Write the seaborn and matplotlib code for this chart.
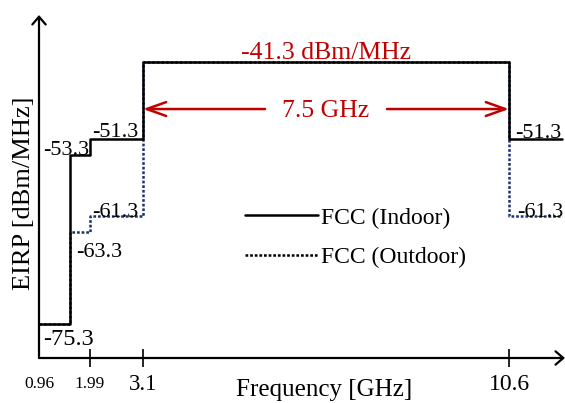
import numpy as np
import pandas as pd
import matplotlib
matplotlib.use('Agg')
import matplotlib.pyplot as plt
import seaborn as sns
from matplotlib.lines import Line2D

# FCC UWB spectral mask (EIRP limits in dBm/MHz)
freq = [0.96, 1.61, 1.99, 3.1, 10.6, 11.55]
indoor = [-75.3, -53.3, -51.3, -41.3, -51.3, -51.3]
outdoor = [-75.3, -63.3, -61.3, -41.3, -61.3, -61.3]
tick_vals = [0.96, 1.99, 3.1, 10.6]
tick_text = ['0.96', '1.99', '3.1', '10.6']
tick_sizes = [12.5, 12.5, 16.5, 17]
band_lo, band_hi = 3.1, 10.6

df = pd.DataFrame({
    'freq': freq * 2,
    'eirp': indoor + outdoor,
    'rule': ['Indoor'] * len(freq) + ['Outdoor'] * len(freq),
})

sns.set_style('white')
plt.rcParams['font.family'] = ['Liberation Serif', 'DejaVu Serif']
plt.rcParams['text.color'] = 'black'
plt.rcParams['axes.labelcolor'] = 'black'

# non-linear frequency axis, piecewise linear like the original sketch
scale_f = [0.96, 1.61, 1.99, 3.1, 10.6, 11.6]
scale_u = [0, 31, 51, 104, 470, 526]
fwd = lambda f: np.interp(f, scale_f, scale_u)
inv = lambda u: np.interp(u, scale_u, scale_f)

fig = plt.figure(figsize=(5.65, 4.03), dpi=100)
ax = fig.add_axes([39 / 565, 45 / 403, 526 / 565, 343 / 403])
ax.set_xscale('function', functions=(fwd, inv))

lw = 1.8
dotted = (0, (1.1, 0.75))
sns.lineplot(data=df[df.rule == 'Outdoor'], x='freq', y='eirp', estimator=None, sort=False,
             drawstyle='steps-post', color='#1a3470', linewidth=lw, linestyle=dotted,
             ax=ax, zorder=2)
sns.lineplot(data=df[df.rule == 'Indoor'], x='freq', y='eirp', estimator=None, sort=False,
             drawstyle='steps-post', color='black', linewidth=lw, ax=ax, zorder=3)

ax.set_xlim(0.96, 11.6)
ax.set_ylim(-79.7, -35.2)
ax.set_yticks([])
ax.set_xticks(tick_vals, labels=tick_text)
ax.tick_params(axis='x', bottom=True, direction='inout', length=13, width=1.2,
               pad=12.5, colors='black')
for lbl, s in zip(ax.get_xticklabels(), tick_sizes):
    lbl.set_fontsize(s)
    lbl.set_verticalalignment('center')
ax.xaxis.get_major_ticks()[0].tick1line.set_visible(False)

for sp in ax.spines.values():
    sp.set_visible(False)
arrow_kw = dict(arrowstyle='->,head_length=0.35,head_width=0.3', lw=1.6, color='black',
                shrinkA=0, shrinkB=0, mutation_scale=16)
ax.annotate('', xy=(0, 1), xytext=(0, 0), xycoords='axes fraction',
            arrowprops=arrow_kw, annotation_clip=False)
ax.annotate('', xy=(1, 0), xytext=(0, 0), xycoords='axes fraction',
            arrowprops=arrow_kw, annotation_clip=False)

ax.set_xlabel('Frequency [GHz]', fontsize=18)
ax.xaxis.set_label_coords(0.542, -0.062)
ax.set_ylabel('EIRP [dBm/MHz]', fontsize=19)
ax.yaxis.set_label_coords(-0.008, 0.481)

# level labels
def level(x, y, text, dx, dy, size=16, ha='left'):
    ax.annotate(text, xy=(x, y), xytext=(dx, dy), textcoords='offset points',
                ha=ha, va='baseline', fontsize=size)

level(freq[0], indoor[0], '%.1f' % indoor[0], 3, -15, size=17.5)
level(freq[1], indoor[1], '%.1f' % indoor[1], -3, 0, ha='center')
level(freq[2], indoor[2], '%.1f' % indoor[2], 1.5, 1.5)
level(freq[2], outdoor[2], '%.1f' % outdoor[2], 1.5, -0.7)
level(freq[1], outdoor[1], '%.1f' % outdoor[1], 4.3, -18)
level(freq[4], indoor[4], '%.1f' % indoor[4], 4.3, 0.7)
level(freq[4], outdoor[4], '%.1f' % outdoor[4], 5.8, -0.7)

# red bandwidth annotation
red = '#c00000'
mid = (band_lo + band_hi) / 2
ax.annotate('%.1f dBm/MHz' % indoor[3], xy=(mid, indoor[3]), xytext=(0, 2.5),
            textcoords='offset points', ha='center', va='baseline', fontsize=18.5, color=red)
y_arr = -47.4
red_kw = dict(arrowstyle='->,head_length=0.7,head_width=0.25', lw=1.8, color=red,
              shrinkA=0, shrinkB=0, mutation_scale=20)
ax.annotate('', xy=(band_lo, y_arr), xytext=(mid - 1.25, y_arr), arrowprops=red_kw)
ax.annotate('', xy=(band_hi, y_arr), xytext=(mid + 1.25, y_arr), arrowprops=red_kw)
ax.annotate('%.1f GHz' % (band_hi - band_lo), xy=(mid, y_arr), xytext=(0, -5.4),
            textcoords='offset points', ha='center', va='baseline', fontsize=18.5, color=red)

handles = [Line2D([], [], color='black', lw=lw),
           Line2D([], [], color='black', lw=lw, linestyle=dotted)]
ax.legend(handles, ['FCC (Indoor)', 'FCC (Outdoor)'], loc='upper left',
          bbox_to_anchor=(0.392, 0.44), frameon=False, fontsize=17, handlelength=3.1,
          handletextpad=0.1, labelspacing=0.75, borderpad=0, borderaxespad=0)

fig.savefig('out.png', dpi=100)
